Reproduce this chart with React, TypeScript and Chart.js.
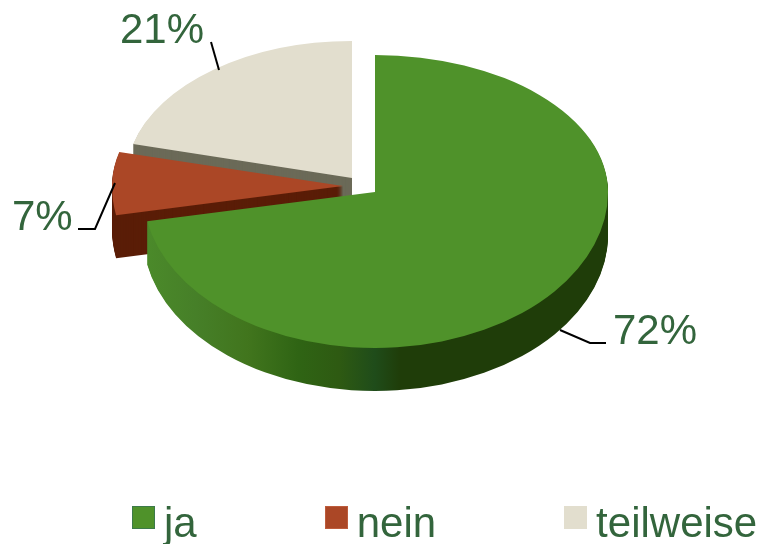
import React, { useEffect, useRef } from "react";
import { Chart, registerables } from "chart.js";

Chart.register(...registerables);

const categories = ["ja", "nein", "teilweise"];
const shares = [72, 7, 21];
const topColors = ["#4f922a", "#ab4726", "#e2dece"];
const wallColors = ["#1f3d09", "#5a1d07", "#6b6a58"];
const swatchEdges = ["#3c7a4a", "#bd5c3c", "#e2dece"];
const textColor = "#33653c";
const fontFamily = '"Liberation Sans", Arial, sans-serif';

const RADIUS = 230;
const RX_LEFT = [232, 231, 226];
const RX_RIGHT = 233;
const RY_UP = 137;
const RY_DOWN = 156;
const DEPTH = 43;
const EXPLODE = [
  [0, 0],
  [-32, -6],
  [-23, -14],
];
const DRAW_ORDER = [2, 1, 0];

const labelPlacement = [
  { x: 613, y: 344, line: [[560, 330], [590, 343], [606, 343]] },
  { x: 12, y: 230, line: [[115, 183], [95, 229], [78, 229]] },
  { x: 120, y: 43, line: [[211, 42], [219, 70]] },
];

const pie3dPlugin = {
  id: "pie3d",
  beforeDatasetDraw(chart: any) {
    const ctx = chart.ctx as CanvasRenderingContext2D;
    const arcs = chart.getDatasetMeta(0).data;
    const W = chart.width;
    const H = chart.height;

    const greenWall = ctx.createLinearGradient(148, 0, 400, 0);
    [
      [0, "#4b8a2a"],
      [0.2, "#467f28"],
      [0.4, "#41751d"],
      [0.6, "#2f6414"],
      [0.76, "#2e5a12"],
      [0.9, "#1f4c1a"],
      [1, "#1f3d09"],
    ].forEach(([s, c]) => greenWall.addColorStop(s as number, c as string));

    const stamp = (arc: any, rxLeft: number, dx: number, dy: number, fill: any) => {
      const saved = arc.options;
      arc.options = { ...saved, backgroundColor: fill, borderWidth: 0 };
      const apexX = Math.round(arc.x + dx);
      const apexY = Math.round(arc.y + dy);
      [
        { left: 0, w: apexX, rx: rxLeft },
        { left: apexX, w: W - apexX, rx: RX_RIGHT },
      ].forEach(({ left, w, rx }) => {
        [
          { top: 0, h: apexY, ry: RY_UP },
          { top: apexY, h: H - apexY, ry: RY_DOWN },
        ].forEach(({ top, h, ry }) => {
          ctx.save();
          ctx.beginPath();
          ctx.rect(left, top, w, h);
          ctx.clip();
          ctx.translate(apexX, apexY);
          ctx.scale(rx / arc.outerRadius, ry / arc.outerRadius);
          ctx.translate(-arc.x, -arc.y);
          arc.draw(ctx);
          ctx.restore();
        });
      });
      arc.options = saved;
    };

    DRAW_ORDER.forEach((i) => {
      const arc = arcs[i];
      const [dx, dy] = EXPLODE[i];
      for (let d = DEPTH; d >= 1; d--) {
        stamp(arc, RX_LEFT[i], dx, dy + d, i === 0 ? greenWall : wallColors[i]);
      }
      stamp(arc, RX_LEFT[i], dx, dy, topColors[i]);
    });
    return false;
  },
  afterDatasetsDraw(chart: any) {
    const ctx = chart.ctx as CanvasRenderingContext2D;
    ctx.save();
    ctx.strokeStyle = "#000";
    ctx.lineWidth = 2;
    labelPlacement.forEach((p, i) => {
      ctx.beginPath();
      p.line.forEach(([x, y], k) => (k ? ctx.lineTo(x, y) : ctx.moveTo(x, y)));
      ctx.stroke();
      ctx.fillStyle = textColor;
      ctx.font = `42px ${fontFamily}`;
      ctx.textAlign = "left";
      ctx.textBaseline = "alphabetic";
      ctx.fillText(`${shares[i]}%`, p.x, p.y);
    });
    ctx.restore();
  },
};

export default function App() {
  const ref = useRef<HTMLCanvasElement>(null);
  useEffect(() => {
    const chart = new Chart(ref.current!, {
      type: "pie",
      data: {
        labels: categories,
        datasets: [{ data: shares, backgroundColor: topColors, borderWidth: 0 }],
      },
      options: {
        responsive: false,
        animation: false,
        radius: RADIUS,
        layout: { padding: { right: 12, bottom: 160 } },
        plugins: { legend: { display: false }, tooltip: { enabled: false } },
      } as any,
      plugins: [pie3dPlugin],
    });
    return () => chart.destroy();
  }, []);

  return (
    <div style={{ position: "absolute", left: 0, top: 0, width: 762, height: 544, background: "#fff", overflow: "hidden" }}>
      <canvas ref={ref} width={762} height={544} style={{ display: "block" }} />
      <div
        style={{
          position: "absolute",
          left: 132,
          top: 499,
          display: "flex",
          gap: 128,
          font: `42px ${fontFamily}`,
          color: textColor,
          whiteSpace: "nowrap",
        }}
      >
        {categories.map((c, i) => (
          <div key={c} style={{ display: "flex", alignItems: "flex-start" }}>
            <span
              style={{
                width: 23,
                height: 23,
                boxSizing: "border-box",
                border: `1px solid ${swatchEdges[i]}`,
                marginTop: 7,
                marginRight: 9,
                background: topColors[i],
                display: "inline-block",
              }}
            />
            <span>{c}</span>
          </div>
        ))}
      </div>
    </div>
  );
}
